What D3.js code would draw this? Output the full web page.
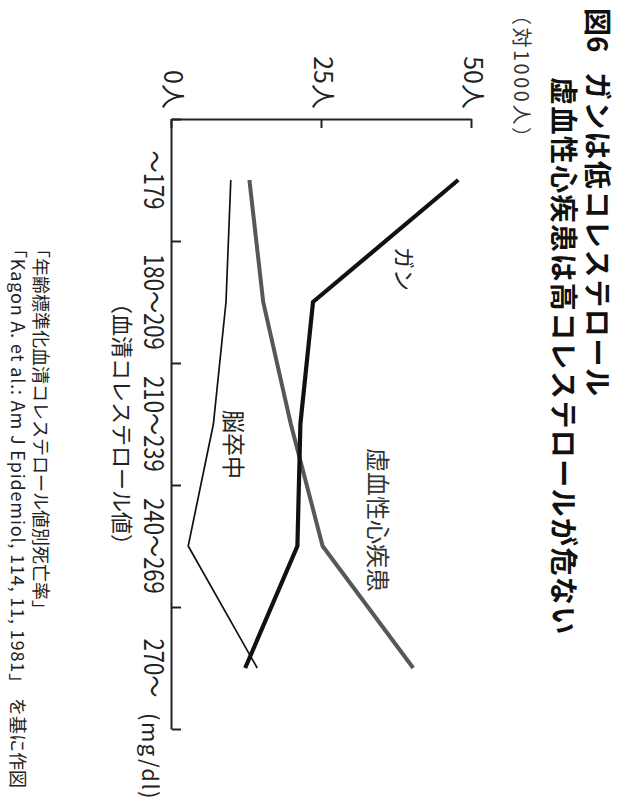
<!DOCTYPE html>
<html><head><meta charset="utf-8">
<script src="https://cdn.jsdelivr.net/npm/d3@7"></script>
<style>
body{margin:0;background:#fff}
svg{display:block}
text{font-family:"Noto Sans CJK JP","Noto Sans",sans-serif}
</style>
</head><body>
<svg id="chart" width="619" height="800"></svg>
<script>
// ---- data ----
const categories = ["～179", "180～209", "210～239", "240～269", "270～"];
const cancer = [47.7, 23.5, 21.4, 20.9, 12.2];      // ガン
const ihd = [12.9, 15.2, 19.8, 25.1, 40.2];         // 虚血性心疾患
const strokeVals = [9.8, 9.0, 6.9, 2.7, 14.2];      // 脳卒中
const valueTicks = [0, 25, 50];
const valueTickLabels = ["0人", "25人", "50人"];
const seriesNames = ["ガン", "虚血性心疾患", "脳卒中"];
const titleLines = ["ガンは低コレステロール", "虚血性心疾患は高コレステロールが危ない"];
const figNo = "図6";
const unitLabel = "（対1000人）";
const xTitle = "（血清コレステロール値）";
const xUnit = "(mg/dl)";
const sourceLines = ["「年齢標準化血清コレステロール値別死亡率」", "「Kagon A. et al.: Am J Epidemiol, 114, 11, 1981」", "を基に作図"];

(function () {
// ---- layout (unrotated frame: 800 wide, 619 tall) ----
const svg = d3.select("#chart");
const g = svg.append("g").attr("transform", "translate(619,0) rotate(90)");

const mLeft = 119, mRight = 729, mTop = 147, mBottom = 447;
const band = d3.scaleBand().domain(categories).range([mLeft, mRight]);
const bounds = d3.scaleLinear().domain([0, categories.length]).range([mLeft, mRight]);
const y = d3.scaleLinear().domain([0, 50]).range([mBottom, mTop]);

// title
const title = g.append("g").attr("font-weight", "bold").attr("fill", "#111").attr("font-size", 28);
title.append("text").attr("x", 8).attr("y", 32).text(figNo);
title.append("text").attr("x", 72).attr("y", 32).attr("letter-spacing", 1.6).text(titleLines[0]);
title.append("text").attr("x", 77).attr("y", 66).attr("letter-spacing", 1.4).text(titleLines[1]);

g.append("text").attr("x", 5).attr("y", 105).attr("font-size", 20).attr("fill", "#333")
  .attr("letter-spacing", 2.5).text(unitLabel);

// value axis
const yAxis = d3.axisLeft(y).tickValues(valueTicks).tickSize(-9).tickSizeOuter(0).tickPadding(10)
  .tickFormat((d, i) => valueTickLabels[i]);
const ya = g.append("g").attr("transform", `translate(${mLeft},0)`).call(yAxis);
ya.selectAll("text").attr("font-size", 25).attr("fill", "#222").attr("font-family", "Noto Sans CJK JP");
ya.selectAll("path,line").attr("stroke", "#222").attr("stroke-width", 2);

// category axis: boundaries ticks
const xb = d3.axisBottom(bounds).tickValues(d3.range(0, categories.length + 1)).tickSize(-9)
  .tickSizeOuter(0).tickFormat("");
const xa = g.append("g").attr("transform", `translate(0,${mBottom})`).call(xb);
xa.selectAll("path,line").attr("stroke", "#222").attr("stroke-width", 2);

// category labels
const xl = d3.axisBottom(band).tickSize(0).tickPadding(9);
const xla = g.append("g").attr("transform", `translate(0,${mBottom})`).call(xl);
xla.select(".domain").remove();
xla.selectAll("text").attr("font-size", 27).attr("fill", "#222")
  .attr("font-family", "Noto Sans CJK JP").attr("transform", "scale(0.82,1)");

g.append("text").attr("x", 713).attr("y", 477).attr("font-size", 22).attr("fill", "#222")
  .attr("letter-spacing", 1.5).text(xUnit);
g.append("text").attr("x", (mLeft + mRight) / 2).attr("y", 505).attr("text-anchor", "middle")
  .attr("font-size", 22).attr("fill", "#222").text(xTitle);

// source
const src = g.append("g").attr("font-size", 18).attr("fill", "#222");
src.append("text").attr("x", 240).attr("y", 585).text(sourceLines[0]);
const s2 = src.append("text").attr("x", 240).attr("y", 608);
s2.append("tspan").attr("letter-spacing", 0.85).text(sourceLines[1]);
s2.append("tspan").attr("x", 698).attr("letter-spacing", 0).text(sourceLines[2]);

// lines
const line = d3.line()
  .x((d, i) => band(categories[i]) + band.bandwidth() / 2)
  .y(d => y(d));
g.append("path").datum(ihd).attr("d", line).attr("fill", "none")
  .attr("stroke", "#575757").attr("stroke-width", 4);
g.append("path").datum(strokeVals).attr("d", line).attr("fill", "none")
  .attr("stroke", "#111").attr("stroke-width", 1.7);
g.append("path").datum(cancer).attr("d", line).attr("fill", "none")
  .attr("stroke", "#111").attr("stroke-width", 4.2);

// series labels
g.append("text").attr("x", 247).attr("y", y(37.3)).attr("font-size", 22).attr("fill", "#222").text(seriesNames[0]);
g.append("text").attr("x", 448).attr("y", y(32.9)).attr("font-size", 24).attr("fill", "#333").text(seriesNames[1]);
g.append("text").attr("x", 410).attr("y", y(8.9)).attr("font-size", 23).attr("fill", "#222").text(seriesNames[2]);
})();
</script>
</body></html>
